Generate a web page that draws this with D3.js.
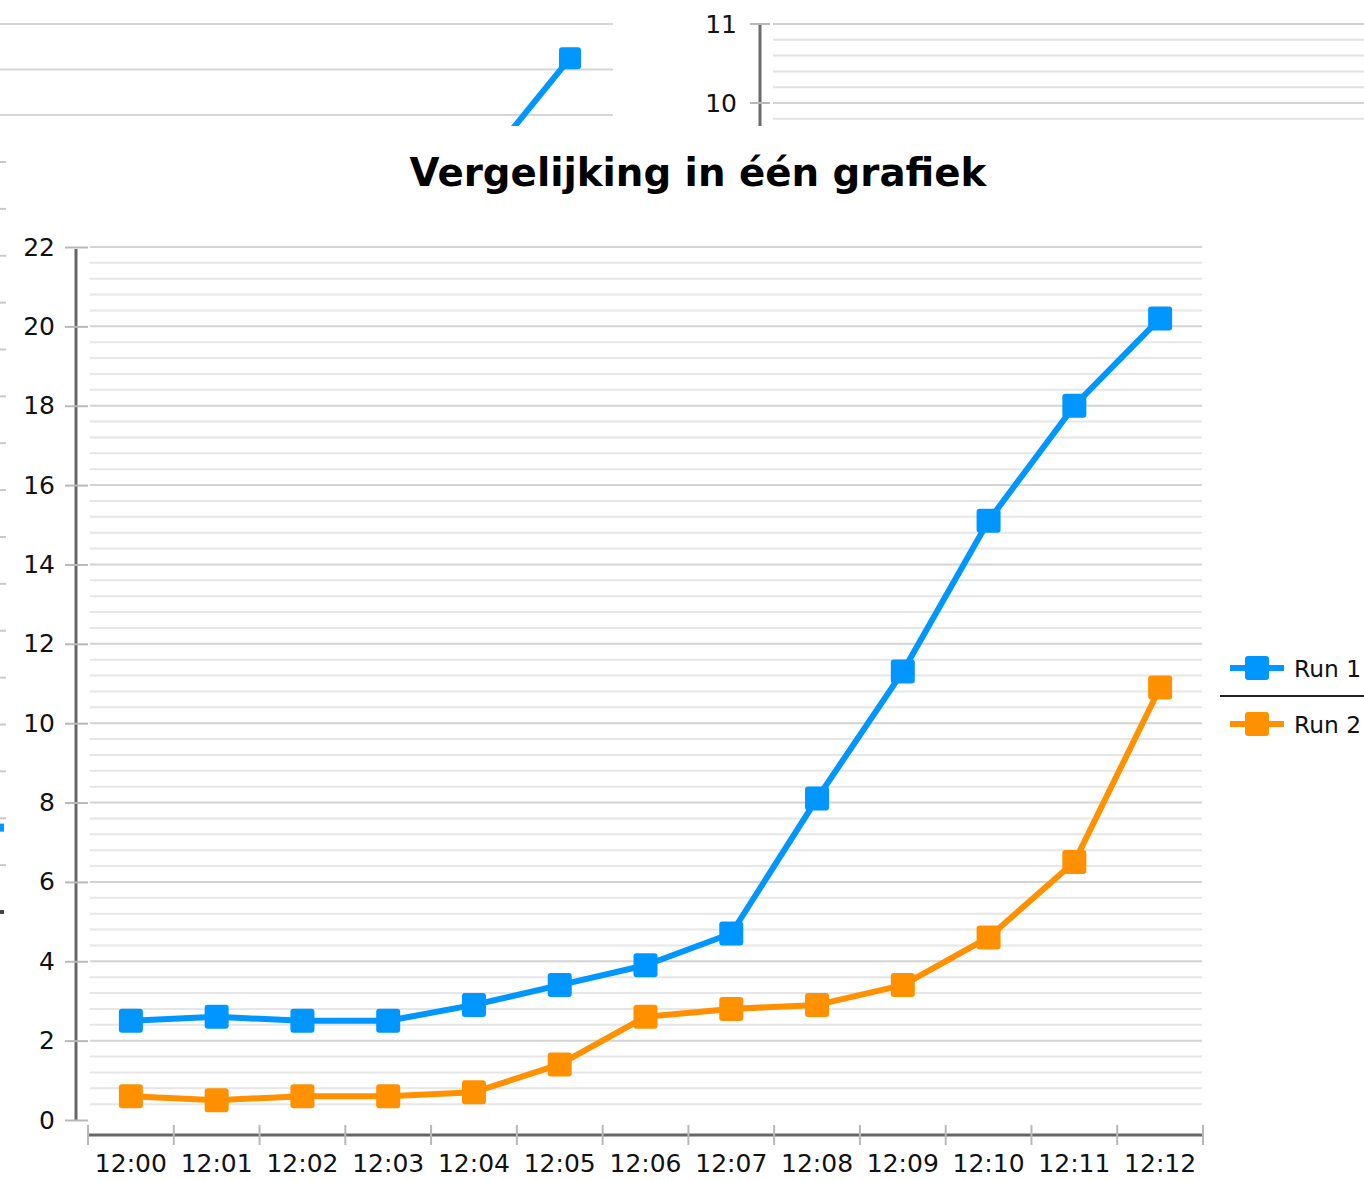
<!DOCTYPE html>
<html>
<head>
<meta charset="utf-8">
<script src="https://cdn.jsdelivr.net/npm/d3@7"></script>
<style>
  html, body { margin: 0; padding: 0; background: #fff; overflow: hidden; }
  svg { display: block; font-family: "DejaVu Sans", Verdana, sans-serif; }
</style>
</head>
<body>
<div id="chart"></div>
<script>
// main chart data
const times = ["12:00","12:01","12:02","12:03","12:04","12:05","12:06",
    "12:07","12:08","12:09","12:10","12:11","12:12"];
const run1 = [2.5, 2.6, 2.5, 2.5, 2.9, 3.4, 3.9, 4.7, 8.1, 11.3, 15.1, 18.0, 20.2];
const run2 = [0.6, 0.5, 0.6, 0.6, 0.7, 1.4, 2.6, 2.8, 2.9, 3.4, 4.6, 6.5, 10.9];
const seriesNames = ["Run 1", "Run 2"];
const yTicks = [0, 2, 4, 6, 8, 10, 12, 14, 16, 18, 20, 22];

// pieces of the charts lying behind the main one
const backLeftValues = [15.9, 20.5];
const backLeftGrid = [18, 20, 22];
const backRightTicks = [10, 11];

const W = 1364, H = 1180;
const blue = "#0096ff", orange = "#ff9100";
const colors = [blue, orange];

const svg = d3.select("#chart").append("svg")
    .attr("width", W).attr("height", H);

// ---------- background fragments ----------
const back = svg.append("g");

// top left fragment
const blY = d3.scaleLinear().domain([18, 22]).range([115, 24]);
const blX = d3.scalePoint().domain([0, 1]).range([485, 570]);
back.selectAll("line.blgrid").data(backLeftGrid).enter().append("line")
    .attr("x1", 0).attr("x2", 613)
    .attr("y1", d => blY(d)).attr("y2", d => blY(d))
    .attr("stroke", "#d6d6d6").attr("stroke-width", 2);
back.append("path")
    .datum(backLeftValues)
    .attr("fill", "none").attr("stroke", blue).attr("stroke-width", 6)
    .attr("d", d3.line().x((d, i) => blX(i)).y(d => blY(d)));
back.append("rect")
    .attr("x", blX(1) - 11).attr("y", blY(backLeftValues[1]) - 11)
    .attr("width", 22).attr("height", 22).attr("rx", 3)
    .attr("fill", blue);

// top right fragment
const brY = d3.scaleLinear().domain([10, 11]).range([103, 24]);
const brMinor = d3.range(9.8, 11.001, 0.2);
back.selectAll("line.brgrid").data(brMinor).enter().append("line")
    .attr("x1", 773).attr("x2", W)
    .attr("y1", d => brY(d)).attr("y2", d => brY(d))
    .attr("stroke", d => Math.abs(d - Math.round(d)) < 0.01 ? "#d2d2d2" : "#e2e2e2")
    .attr("stroke-width", 2);
back.append("line")
    .attr("x1", 760).attr("x2", 760).attr("y1", 25).attr("y2", 130)
    .attr("stroke", "#6a6a6a").attr("stroke-width", 3);
back.selectAll("line.brtick").data(backRightTicks).enter().append("line")
    .attr("x1", 750).attr("x2", 770)
    .attr("y1", d => brY(d)).attr("y2", d => brY(d))
    .attr("stroke", "#b8b8b8").attr("stroke-width", 2);
back.selectAll("text.brlab").data(backRightTicks).enter().append("text")
    .attr("x", 737).attr("y", d => brY(d) + 9)
    .attr("text-anchor", "end").attr("font-size", 25).attr("fill", "#111")
    .text(d => d);

// white panel of the main chart
svg.append("rect").attr("x", 0).attr("y", 126).attr("width", W).attr("height", H - 126)
    .attr("fill", "#fff");

// left edge tick fragments
const leftY = d3.scaleLinear().domain([0, 16]).range([162, 912]);
svg.selectAll("line.leftfrag").data(d3.range(0, 16)).enter().append("line")
    .attr("x1", 0).attr("x2", 6)
    .attr("y1", d => leftY(d)).attr("y2", d => leftY(d))
    .attr("stroke", "#c8c8c8").attr("stroke-width", 2);
svg.append("rect").attr("x", 0).attr("y", leftY(14.2) - 4).attr("width", 4).attr("height", 8)
    .attr("fill", blue);
svg.append("rect").attr("x", 0).attr("y", leftY(16) - 2).attr("width", 4).attr("height", 4)
    .attr("fill", "#444");

// ---------- main chart ----------
const x = d3.scaleBand().domain(times).range([88, 1203]).padding(0);
const y = d3.scaleLinear().domain([0, 22]).range([1120, 247]);

// grid lines: minor every 0.4, major every 2
const minor = d3.range(1, 56).map(i => i * 0.4);
svg.append("g").selectAll("line").data(minor).enter().append("line")
    .attr("x1", 90).attr("x2", 1202)
    .attr("y1", d => y(d)).attr("y2", d => y(d))
    .attr("stroke", d => Math.abs(d / 2 - Math.round(d / 2)) < 0.01 ? "#d3d3d3" : "#e6e6e6")
    .attr("stroke-width", 2);

// y axis
const yAxis = svg.append("g").attr("transform", "translate(76,0)")
    .call(d3.axisLeft(y).tickValues(yTicks).tickSize(0).tickPadding(21));
yAxis.select(".domain").attr("stroke", "#666").attr("stroke-width", 3)
    .attr("d", `M0,${y(22) + 2}V${y(0)}`);
yAxis.selectAll(".tick text").attr("font-size", 25).attr("fill", "#111")
    .attr("font-family", "DejaVu Sans, sans-serif");
yAxis.selectAll(".tick").append("line")
    .attr("x1", -11).attr("x2", 12).attr("stroke", "#b8b8b8").attr("stroke-width", 2);

// x axis
const xAxis = svg.append("g").attr("transform", "translate(0,1135)")
    .call(d3.axisBottom(x).tickSize(0).tickPadding(19));
xAxis.select(".domain").attr("stroke", "#666").attr("stroke-width", 3)
    .attr("d", "M88,0H1203");
xAxis.selectAll(".tick text").attr("font-size", 25).attr("fill", "#111")
    .attr("font-family", "DejaVu Sans, sans-serif");
const bounds = times.map(t => x(t)).concat([x.range()[1]]);
xAxis.selectAll("line.band").data(bounds).enter().append("line")
    .attr("x1", d => d).attr("x2", d => d).attr("y1", -10).attr("y2", 10)
    .attr("stroke", "#b8b8b8").attr("stroke-width", 2);

// series
const line = d3.line()
    .x((d, i) => x(times[i]) + x.bandwidth() / 2)
    .y(d => y(d));

[run2, run1].forEach(function(values) {
    const c = values === run1 ? blue : orange;
    const g = svg.append("g");
    g.append("path").datum(values)
        .attr("fill", "none").attr("stroke", c).attr("stroke-width", 6)
        .attr("stroke-linejoin", "round")
        .attr("d", line);
    g.selectAll("rect").data(values).enter().append("rect")
        .attr("x", (d, i) => x(times[i]) + x.bandwidth() / 2 - 12)
        .attr("y", d => y(d) - 12)
        .attr("width", 24).attr("height", 24).attr("rx", 3)
        .attr("fill", c);
});

// title
const title = svg.append("text")
    .attr("x", 698).attr("y", 186)
    .attr("text-anchor", "middle")
    .attr("font-size", 38).attr("font-weight", "bold").attr("fill", "#000")
    .text("Vergelijking in één grafiek");
const tw = title.node().getComputedTextLength();
title.attr("font-size", 38 * 577 / tw);

// legend, squeezed against the right edge so the labels stay whole
const legend = svg.append("g");
const legY = d3.scalePoint().domain(seriesNames).range([668, 724]);
seriesNames.forEach(function(name, i) {
    const ly = legY(name);
    legend.append("line").attr("x1", 1230).attr("x2", 1284)
        .attr("y1", ly).attr("y2", ly)
        .attr("stroke", colors[i]).attr("stroke-width", 6);
    legend.append("rect").attr("x", 1245).attr("y", ly - 12)
        .attr("width", 24).attr("height", 24).attr("rx", 3)
        .attr("fill", colors[i]);
    const t = legend.append("text").attr("x", 1294).attr("y", ly + 9)
        .attr("font-size", 24).attr("fill", "#111")
        .text(name);
    const len = t.node().getComputedTextLength();
    if (1294 + len > W - 3) t.attr("font-size", 24 * (W - 3 - 1294) / len);
});
legend.append("line").attr("x1", 1220).attr("x2", W)
    .attr("y1", (legY(seriesNames[0]) + legY(seriesNames[1])) / 2)
    .attr("y2", (legY(seriesNames[0]) + legY(seriesNames[1])) / 2)
    .attr("stroke", "#222").attr("stroke-width", 2);
</script>
</body>
</html>
